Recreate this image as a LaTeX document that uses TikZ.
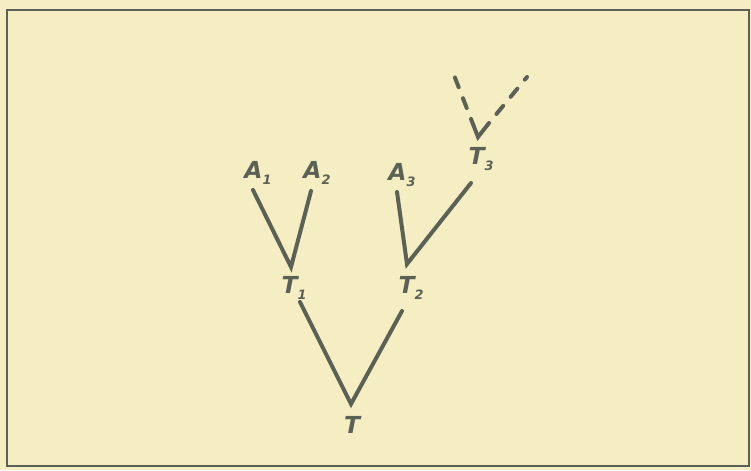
\documentclass[tikz,border=0pt]{standalone}
\usepackage{fontspec}
\newfontfamily\lblfont{DejaVu Sans}
\definecolor{paper}{HTML}{F4EEC2}
\definecolor{ink}{HTML}{5C6157}
\newcommand{\sub}[1]{\raisebox{-0.25em}{\fontsize{11}{11}\selectfont #1}}
\tikzset{
  lbl/.style={font=\lblfont\bfseries\itshape\fontsize{20}{20}\selectfont, text=ink, inner sep=0pt},
  branch/.style={draw=ink, line width=3.4pt, line cap=round},
  dbranch/.style={branch, dash pattern=on 9pt off 10pt, dash phase=9pt},
}
\begin{document}
\begin{tikzpicture}[x=0.03cm,y=-0.03cm]
\fill[paper] (0,0) rectangle (751,470);
\useasboundingbox (0,0) rectangle (751,470);
\draw[ink, line width=1.6pt] (7,466) -- (7,10) -- (749,10) -- (749,466) -- cycle;
% labels
\node[lbl] (A1) at (258,173) {A\sub{1}};
\node[lbl] (A2) at (317,173) {A\sub{2}};
\node[lbl] (A3) at (402,175) {A\sub{3}};
\node[lbl] (T1) at (294,288) {T\sub{1}};
\node[lbl] (T2) at (411,288) {T\sub{2}};
\node[lbl] (T3) at (481,159) {T\sub{3}};
\node[lbl] (T)  at (352,425) {T};
% line ends
\coordinate (a1) at (253,190);
\coordinate (a2) at (311,191);
\coordinate (a3) at (397,192);
\coordinate (j1) at (291,267);
\coordinate (j2) at (407,264);
\coordinate (t3) at (471,183);
\coordinate (t1) at (300,302);
\coordinate (t2) at (402,311);
\coordinate (j0) at (351,404);
\coordinate (j3) at (478,137);
\coordinate (v1) at (471,119);
\coordinate (v2) at (489,123);
\coordinate (u1) at (452,70);
\coordinate (u2) at (527,77);
% connectors
\draw[branch] (a1) -- (j1) -- (a2);
\draw[branch] (a3) -- (j2) -- (t3);
\draw[branch] (t1) -- (j0) -- (t2);
\draw[branch] (v1) -- (j3) -- (v2);
\draw[dbranch] (v1) -- (u1);
\draw[dbranch] (v2) -- (u2);
\end{tikzpicture}
\end{document}
